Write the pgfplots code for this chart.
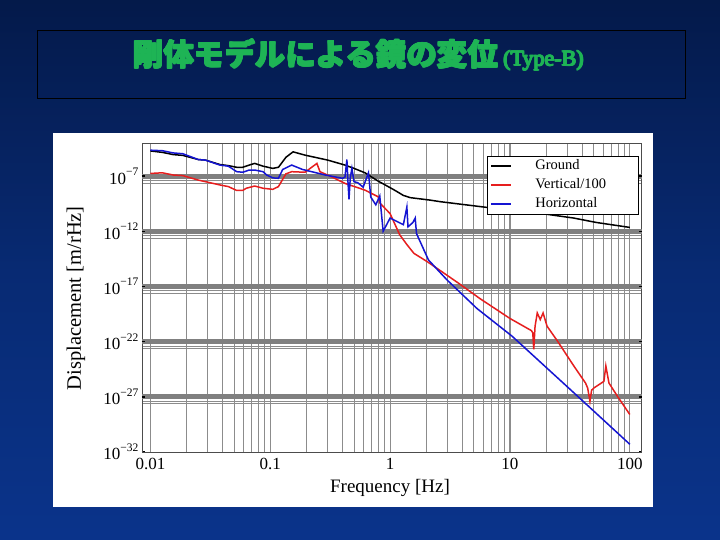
\documentclass[border=0pt]{standalone}
\usepackage{fontspec}
\setmainfont{Liberation Serif}
\newfontfamily\cjk{Noto Sans CJK JP}
\usepackage{pgfplots}
\pgfplotsset{compat=1.18}

\definecolor{ttlgreen}{RGB}{30,180,85}
\definecolor{gridgray}{RGB}{140,140,140}
\definecolor{bandgray}{RGB}{128,128,128}
\definecolor{vred}{RGB}{230,30,30}
\definecolor{hblue}{RGB}{20,20,210}

\pgfdeclareverticalshading{slidebg}{100bp}{rgb(0bp)=(0.04,0.23,0.59); rgb(26bp)=(0.04,0.2,0.54); rgb(50bp)=(0.03,0.165,0.45); rgb(75bp)=(0.016,0.1,0.29); rgb(100bp)=(0,0.016,0.07)}

\newcommand{\ex}[1]{10\raisebox{0.5em}{\fontsize{11.5bp}{12bp}\selectfont #1}}
\newcommand{\ttltext}{{\cjk\bfseries\fontsize{30.5bp}{32bp}\selectfont 剛体モデルによる鏡の変位}\hspace{5bp}{\fontsize{22bp}{24bp}\selectfont (Type-B)}}

% ground motion (f [Hz], log10 of displacement)
\pgfplotstableread{
f e
0.01 -4.72
0.0126 -4.85
0.0155 -5.05
0.0186 -5.12
0.0251 -5.5
0.0288 -5.55
0.038 -5.95
0.0447 -6.05
0.0525 -6.2
0.0589 -6.2
0.0668 -6.0
0.0741 -5.85
0.0871 -6.1
0.105 -6.3
0.117 -6.2
0.135 -5.3
0.155 -4.8
0.195 -5.1
0.302 -5.55
0.42 -6.0
0.5 -6.3
0.617 -6.7
0.794 -7.45
0.875 -7.7
1.06 -8.2
1.14 -8.4
1.29 -8.75
1.47 -8.95
2.14 -9.17
2.63 -9.32
6.03 -9.8
10 -10.1
20 -10.45
34 -10.8
52.5 -11.2
100 -11.65
}\ground

% vertical / 100
\pgfplotstableread{
f e
0.01 -6.76
0.0126 -6.7
0.0155 -6.9
0.0186 -6.95
0.0251 -7.36
0.038 -7.8
0.0447 -7.95
0.0525 -8.3
0.0589 -8.3
0.0631 -8.1
0.0741 -7.9
0.0871 -8.1
0.105 -8.2
0.117 -7.95
0.135 -6.8
0.151 -6.6
0.195 -6.65
0.245 -5.85
0.26 -6.6
0.324 -7.06
0.42 -7.66
0.617 -8.27
0.794 -8.87
0.824 -9.45
1.0 -10.4
1.2 -12.3
1.38 -13.2
1.58 -14.0
2.04 -14.75
2.82 -15.8
3.72 -16.7
5.62 -18.1
10 -19.9
15.1 -21.0
15.5 -21.2
15.8 -22.7
16.2 -20.6
16.9 -19.4
17.9 -20.0
18.9 -19.4
20.4 -20.6
25.1 -22.0
34.1 -24.2
42.7 -25.75
44.5 -26.2
46.5 -27.4
48 -26.4
50.1 -26.2
60.8 -25.6
63.1 -24.2
67 -25.75
79.4 -27
100 -28.6
}\vertical

% horizontal
\pgfplotstableread{
f e
0.01 -4.65
0.0126 -4.7
0.0155 -4.9
0.0186 -4.97
0.0251 -5.5
0.0288 -5.55
0.038 -6.0
0.0447 -6.1
0.0525 -6.6
0.0589 -6.65
0.0668 -6.45
0.0741 -6.45
0.0871 -6.6
0.0933 -6.9
0.105 -7.16
0.117 -7.2
0.127 -6.4
0.151 -6.0
0.186 -6.4
0.288 -6.9
0.40 -7.2
0.42 -7.1
0.436 -5.5
0.445 -7.5
0.454 -9.1
0.465 -7.2
0.48 -6.3
0.50 -7.5
0.537 -7.6
0.596 -8.0
0.66 -6.7
0.69 -8.9
0.76 -9.6
0.82 -8.8
0.875 -12.0
1.0 -10.8
1.29 -11.4
1.38 -9.8
1.41 -11.6
1.55 -11.2
1.62 -10.8
1.66 -12.2
2.09 -14.6
2.98 -16.4
5.31 -19.0
10.4 -21.5
31.6 -26.3
100 -31.3
}\horizontal

\begin{document}
\begin{tikzpicture}
\path[use as bounding box] (0,0) rectangle (720bp,540bp);
\shade[shading=slidebg] (0,0) rectangle (720bp,540bp);
\draw[black, line width=0.8bp] (37bp,442bp) rectangle (685bp,510bp);
% heavy title: the same text laid a few times with small offsets
\foreach \dx/\dy in {-0.7/0,0.7/0,0/-0.7,0/0.7,-0.5/-0.5,0.5/0.5,-0.5/0.5,0.5/-0.5,0/0}
  \node[anchor=base west, inner sep=0, text=ttlgreen] at (133bp+\dx bp,474bp+\dy bp) {\ttltext};
\fill[white] (53bp,33bp) rectangle (653bp,407bp);

\begin{axis}[
  at={(142bp,88bp)}, anchor=south west, scale only axis,
  width=499.5bp, height=309bp,
  xmode=log, xmin=0.00851, xmax=125.2,
  ymin=-32, ymax=-4,
  axis line style={black!70, line width=0.8bp},
  xtick={0.01,0.1,1,10,100},
  xticklabels={0.01,0.1,1,10,100},
  minor xtick={0.02,0.03,0.04,0.05,0.06,0.07,0.08,0.09,0.2,0.3,0.4,0.5,0.6,0.7,0.8,0.9,2,3,4,5,6,7,8,9,20,30,40,50,60,70,80,90},
  xmajorgrids, xminorgrids,
  ytick={-32,-27,-22,-17,-12,-7},
  yticklabels={\ex{−32},\ex{−27},\ex{−22},\ex{−17},\ex{−12},\ex{−7}},
  minor ytick={-7.4,-7.63,-12.4,-12.63,-17.4,-17.63,-22.4,-22.63,-27.4,-27.63},
  yminorgrids,
  extra y ticks={-27,-22,-17,-12,-7},
  extra y tick labels={},
  extra y tick style={ymajorgrids=true, major grid style={bandgray, line width=5bp}},
  major grid style={gridgray, line width=1.1bp},
  minor grid style={gridgray, line width=1.0bp},
  xtick style={draw=none},
  ytick style={black, line width=1.5bp},
  major tick length=3bp, minor tick length=0pt,
  tick label style={font=\fontsize{17bp}{19bp}\selectfont},
  xticklabel style={yshift=-3bp},
  xlabel={Frequency [Hz]},
  ylabel={Displacement [m/rHz]},
  label style={font=\fontsize{19bp}{21bp}\selectfont},
  ylabel style={font=\fontsize{20.5bp}{22bp}\selectfont},
  xlabel style={at={(axis description cs:0.4965,0)}, anchor=center, yshift=-36bp},
  ylabel style={at={(axis description cs:-0.1321,0.498)}, anchor=center},
  legend style={at={(0.993,0.959)}, anchor=north east, draw=black, fill=white,
    font=\fontsize{14.5bp}{16bp}\selectfont, inner xsep=3bp, inner ysep=2bp,
    row sep=3bp, nodes={inner sep=1.5bp, text height=10bp, text depth=3bp},
    /tikz/every odd column/.append style={column sep=22bp}},
  legend cell align=left,
  legend image code/.code={\draw[#1] (0bp,0bp) -- (20bp,0bp);},
]
\addplot[black, line width=1.5bp] table[x=f, y=e] {\ground};
\addlegendentry{\makebox[98bp][l]{Ground}}
\addplot[vred, line width=1.5bp] table[x=f, y=e] {\vertical};
\addlegendentry{\makebox[98bp][l]{Vertical/100}}
\addplot[hblue, line width=1.5bp] table[x=f, y=e] {\horizontal};
\addlegendentry{\makebox[98bp][l]{Horizontal}}
\end{axis}
\end{tikzpicture}
\end{document}
